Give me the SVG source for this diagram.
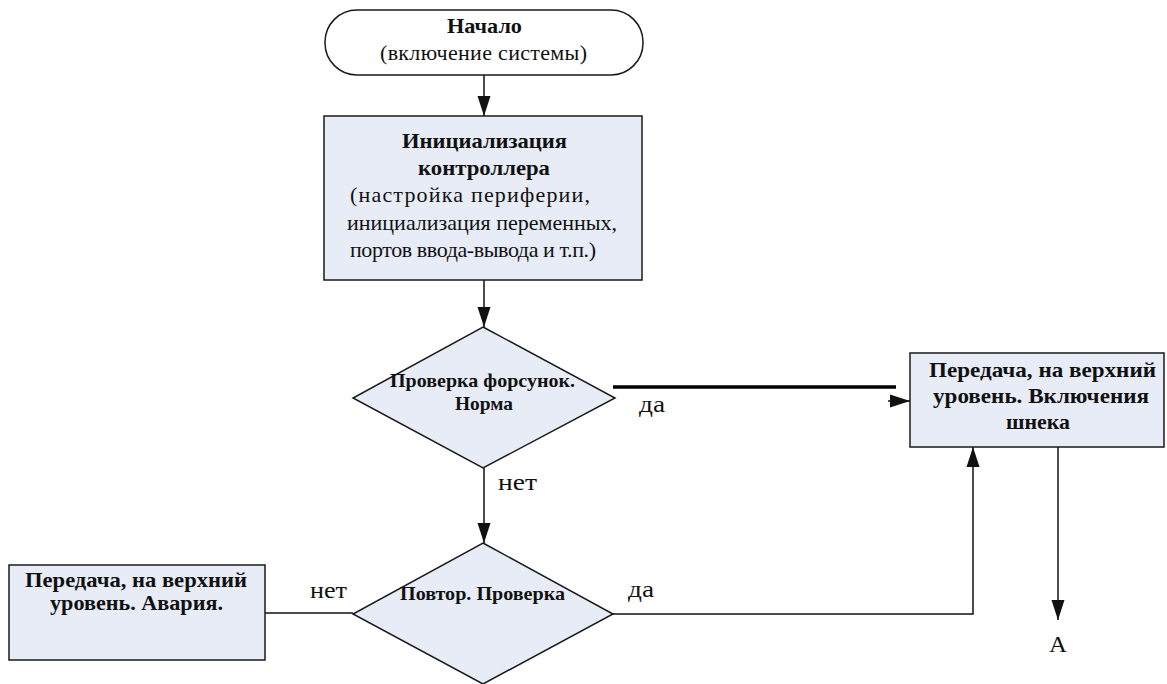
<svg xmlns="http://www.w3.org/2000/svg" width="1167" height="684" viewBox="0 0 1167 684">
<style>
.n{fill:#e8ecf7;stroke:#1a1a1a;stroke-width:1.5}
.t{fill:#fff;stroke:#1a1a1a;stroke-width:1.5}
.c{fill:none;stroke:#111;stroke-width:1.5}
</style>
<defs>
<marker id="ah" markerWidth="20" markerHeight="14" refX="20" refY="7" orient="auto" markerUnits="userSpaceOnUse" viewBox="0 0 20 14">
<path d="M0,0.5 L20,7 L0,13.5 Z" fill="#111"/>
</marker>
</defs>
<g id="connectors">
<line class="c" x1="484" y1="75" x2="484" y2="116" marker-end="url(#ah)"/>
<line class="c" x1="484" y1="280" x2="484" y2="327" marker-end="url(#ah)"/>
<line class="c" x1="484" y1="468" x2="484" y2="543" marker-end="url(#ah)"/>
<line x1="613" y1="387" x2="896" y2="387" stroke="#000" stroke-width="3.5"/>
<line class="c" x1="888" y1="401" x2="910" y2="401" marker-end="url(#ah)"/>
<polyline class="c" points="613,614 973,614 973,447" marker-end="url(#ah)"/>
<line class="c" x1="1058" y1="447" x2="1058" y2="620" marker-end="url(#ah)"/>
<line class="c" x1="265" y1="613" x2="353" y2="613"/>
<text font-family="Liberation Serif" font-size="24" fill="#111" x="639" y="412" textLength="26" lengthAdjust="spacingAndGlyphs">да</text>
<text font-family="Liberation Serif" font-size="24" fill="#111" x="628" y="597" textLength="26" lengthAdjust="spacingAndGlyphs">да</text>
<text font-family="Liberation Serif" font-size="24" fill="#111" x="498" y="490" textLength="39" lengthAdjust="spacingAndGlyphs">нет</text>
<text font-family="Liberation Serif" font-size="24" fill="#111" x="310" y="598" textLength="37" lengthAdjust="spacingAndGlyphs">нет</text>
<text font-family="Liberation Serif" font-size="24" fill="#111" x="1049" y="652" textLength="18" lengthAdjust="spacingAndGlyphs">A</text>
</g>
<g id="start">
<rect class="t" x="325" y="10" width="318" height="65" rx="32" ry="32"/>
<text font-family="Liberation Serif" font-weight="bold" font-size="22" fill="#111" x="447" y="33" textLength="75" lengthAdjust="spacingAndGlyphs">Начало</text>
<text font-family="Liberation Serif" font-size="22" fill="#111" x="380" y="60" textLength="207" lengthAdjust="spacing">(включение системы)</text>
</g>
<g id="init">
<rect class="n" x="324" y="116" width="318" height="164"/>
<text font-family="Liberation Serif" font-weight="bold" font-size="22" fill="#111" x="402" y="148" textLength="165" lengthAdjust="spacingAndGlyphs">Инициализация</text>
<text font-family="Liberation Serif" font-weight="bold" font-size="22" fill="#111" x="418" y="175" textLength="132" lengthAdjust="spacingAndGlyphs">контроллера</text>
<text font-family="Liberation Serif" font-size="22" fill="#111" x="350" y="202" textLength="240" lengthAdjust="spacing">(настройка периферии,</text>
<text font-family="Liberation Serif" font-size="22" fill="#111" x="347" y="230" textLength="270" lengthAdjust="spacing">инициализация переменных,</text>
<text font-family="Liberation Serif" font-size="22" fill="#111" x="350" y="257" textLength="246" lengthAdjust="spacing">портов ввода-вывода и т.п.)</text>
</g>
<g id="check1">
<polygon class="n" points="483,327 615,398 483,468 353,398"/>
<text font-family="Liberation Serif" font-weight="bold" font-size="19" fill="#111" x="390" y="387" textLength="185" lengthAdjust="spacingAndGlyphs">Проверка форсунок.</text>
<text font-family="Liberation Serif" font-weight="bold" font-size="19" fill="#111" x="455" y="410" textLength="58" lengthAdjust="spacingAndGlyphs">Норма</text>
</g>
<g id="check2">
<polygon class="n" points="483,543 613,614 483,684 353,614"/>
<text font-family="Liberation Serif" font-weight="bold" font-size="19" fill="#111" x="400" y="600" textLength="165" lengthAdjust="spacingAndGlyphs">Повтор. Проверка</text>
</g>
<g id="ok">
<rect class="n" x="910" y="353" width="254" height="94"/>
<text font-family="Liberation Serif" font-weight="bold" font-size="22" fill="#111" x="929" y="377" textLength="227" lengthAdjust="spacingAndGlyphs">Передача, на верхний</text>
<text font-family="Liberation Serif" font-weight="bold" font-size="22" fill="#111" x="933" y="403" textLength="216" lengthAdjust="spacingAndGlyphs">уровень. Включения</text>
<text font-family="Liberation Serif" font-weight="bold" font-size="22" fill="#111" x="1006" y="429" textLength="64" lengthAdjust="spacingAndGlyphs">шнека</text>
</g>
<g id="alarm">
<rect class="n" x="9" y="565" width="256" height="95"/>
<text font-family="Liberation Serif" font-weight="bold" font-size="22" fill="#111" x="25" y="587" textLength="222" lengthAdjust="spacingAndGlyphs">Передача, на верхний</text>
<text font-family="Liberation Serif" font-weight="bold" font-size="22" fill="#111" x="50" y="610" textLength="173" lengthAdjust="spacingAndGlyphs">уровень. Авария.</text>
</g>
</svg>
